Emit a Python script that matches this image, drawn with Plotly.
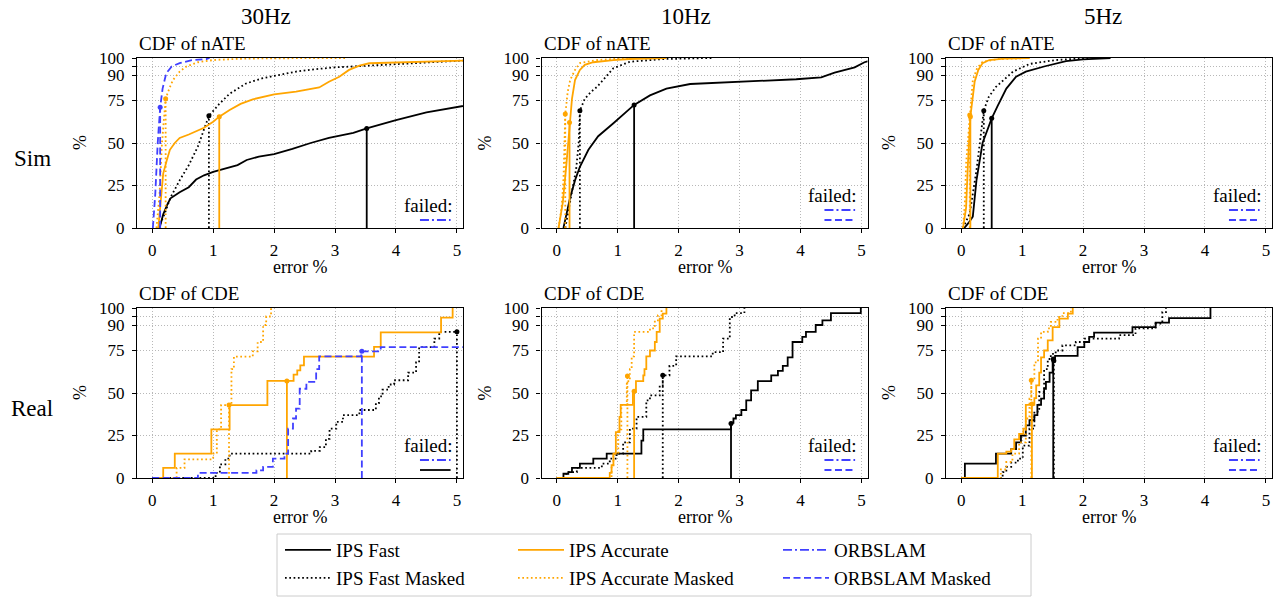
import plotly.graph_objects as go

W, H = 1278, 597
FONT = "Liberation Serif, Times New Roman, serif"

# ---------------- series / styles ----------------
SERIES = ["IPS Fast", "IPS Fast Masked", "IPS Accurate", "IPS Accurate Masked", "ORBSLAM", "ORBSLAM Masked"]
LEGEND_ORDER = ["IPS Fast", "IPS Fast Masked", "IPS Accurate", "IPS Accurate Masked", "ORBSLAM", "ORBSLAM Masked"]
COL_TITLES = ["30Hz", "10Hz", "5Hz"]
ROW_LABELS = ["Sim", "Real"]
ROW_TITLES = ["CDF of nATE", "CDF of CDE"]
X_TICKS = [0, 1, 2, 3, 4, 5]
Y_TICKS = [0, 25, 50, 75, 90, 95, 100]
Y_TICKTEXT = ["0", "25", "50", "75", "90", "", "100"]

# ---------------- Sim 30Hz (nATE) ----------------
SIM30_FAST_X = [0.12, 0.18, 0.25, 0.30, 0.45, 0.60, 0.72, 0.85, 1.0, 1.2, 1.4, 1.55, 1.75, 2.0, 2.3, 2.6, 2.9, 3.1, 3.3, 3.52, 3.8, 4.0, 4.5, 5.1, 5.3]
SIM30_FAST_Y = [0, 8, 14, 17.5, 21, 24, 28.5, 31, 33, 35, 37, 40, 42, 43.5, 46.5, 50, 53, 54.5, 56, 58.6, 61.5, 63.5, 68, 72, 73]
SIM30_FASTM_X = [0.10, 0.2, 0.3, 0.45, 0.6, 0.75, 0.93, 1.1, 1.27, 1.54, 1.8, 2.0, 2.36, 2.7, 3.0, 3.45, 4.0, 4.5, 5.1]
SIM30_FASTM_Y = [0, 8, 18, 28, 37, 48, 66, 73, 79, 85, 88, 89.4, 92, 93.5, 94.5, 95.3, 96.5, 97.5, 98.5]
SIM30_ACC_X = [0.10, 0.14, 0.18, 0.24, 0.29, 0.37, 0.45, 0.6, 0.72, 0.85, 1.0, 1.10, 1.27, 1.45, 1.65, 2.0, 2.36, 2.74, 2.9, 3.07, 3.23, 3.4, 3.56, 4.0, 4.5, 5.1]
SIM30_ACC_Y = [0, 15, 32, 40, 46, 50, 53, 55, 56.7, 59, 62.5, 65.5, 69.4, 73, 75.7, 78.6, 80.2, 82.7, 86, 89, 93, 95.5, 96.9, 97.3, 97.8, 98.4]
SIM30_ACCM_X = [0.07, 0.12, 0.16, 0.20, 0.22, 0.28, 0.34, 0.45, 0.56, 0.75, 1.0, 1.4, 1.8, 3.2]
SIM30_ACCM_Y = [0, 20, 50, 70, 76, 82, 87, 92, 95, 97.5, 98.8, 99.5, 99.8, 100]
SIM30_ORBM_X = [0.01, 0.05, 0.09, 0.12, 0.13, 0.17, 0.23, 0.32, 0.45, 0.65, 0.89, 0.94]
SIM30_ORBM_Y = [0, 20, 50, 68, 71, 82, 91, 95, 97, 98.7, 99.4, 100]
SIM30_MEANS = {"IPS Fast": (3.52, 58.6), "IPS Fast Masked": (0.93, 66), "IPS Accurate": (1.10, 65.5),
               "IPS Accurate Masked": (0.22, 76), "ORBSLAM Masked": (0.13, 71)}

# ---------------- Sim 10Hz (nATE) ----------------
SIM10_FAST_X = [0.11, 0.16, 0.22, 0.3, 0.38, 0.52, 0.68, 0.93, 1.1, 1.27, 1.53, 1.8, 2.19, 2.84, 3.93, 4.34, 4.56, 4.89, 5.05, 5.3]
SIM10_FAST_Y = [0, 8, 18, 28, 36, 46, 54, 61.6, 67, 72.4, 78, 82, 84.7, 85.7, 87.5, 88.6, 91.4, 94.5, 97.5, 100]
SIM10_FASTM_X = [0.14, 0.2, 0.26, 0.32, 0.36, 0.38, 0.46, 0.56, 0.66, 0.8, 0.93, 1.2, 1.75, 2.54]
SIM10_FASTM_Y = [0, 12, 22, 35, 50, 69, 76, 80, 83, 89, 94, 97.8, 99.4, 100]
SIM10_ACC_X = [0.03, 0.1, 0.16, 0.21, 0.25, 0.3, 0.38, 0.46, 0.6, 0.93, 1.2, 1.8]
SIM10_ACC_Y = [0, 15, 38, 62, 76, 87, 93, 96, 97.5, 98.8, 99.4, 100]
SIM10_ACCM_X = [0.03, 0.08, 0.11, 0.14, 0.18, 0.22, 0.3, 0.38, 0.66, 1.2]
SIM10_ACCM_Y = [0, 12, 28, 67, 80, 87, 93, 97, 98.8, 100]
SIM10_MEANS = {"IPS Fast": (1.27, 72.4), "IPS Fast Masked": (0.38, 69), "IPS Accurate": (0.21, 62),
               "IPS Accurate Masked": (0.14, 67)}

# ---------------- Sim 5Hz (nATE) ----------------
SIM5_FAST_X = [0.05, 0.12, 0.19, 0.25, 0.35, 0.5, 0.6, 0.74, 0.9, 1.06, 1.36, 1.55, 1.72, 2.0, 2.45]
SIM5_FAST_Y = [0, 3, 6.7, 28, 50, 64.5, 72, 82, 89, 92, 95, 96.9, 98.2, 99.2, 100]
SIM5_FASTM_X = [0.03, 0.14, 0.25, 0.32, 0.37, 0.45, 0.57, 0.85, 1.12, 1.55, 2.1]
SIM5_FASTM_Y = [0, 8.6, 34, 55, 69, 77, 83, 92, 96.5, 98.8, 100]
SIM5_ACC_X = [0.03, 0.08, 0.11, 0.15, 0.22, 0.28, 0.35, 0.46, 0.7, 1.12]
SIM5_ACC_Y = [0, 12, 38, 65.5, 86, 93, 97, 98.8, 99.6, 100]
SIM5_ACCM_X = [0.03, 0.06, 0.08, 0.14, 0.19, 0.26, 0.35, 0.6, 1.12]
SIM5_ACCM_Y = [0, 15, 38, 66.5, 87, 94, 97.8, 99.3, 100]
SIM5_MEANS = {"IPS Fast": (0.50, 64.5), "IPS Fast Masked": (0.37, 69), "IPS Accurate": (0.15, 65.5),
              "IPS Accurate Masked": (0.14, 66.5)}

# ---------------- Real 30Hz (CDE) ----------------
REAL30_FASTM_X = [0.0, 1.04, 1.11, 1.2, 1.27, 2.61, 2.75, 2.85, 2.91, 3.02, 3.13, 3.4, 3.67, 3.72, 3.78, 3.88, 3.97, 4.2, 4.33, 4.38, 4.63, 4.71, 5.01]
REAL30_FASTM_Y = [0, 3, 8, 11.4, 14.3, 16, 18.2, 23, 29, 33, 37, 40, 44, 48, 52, 55, 57.5, 62, 68, 77, 82, 86, 86]
REAL30_ACC_X = [0.05, 0.18, 0.37, 0.97, 1.27, 1.89, 2.32, 2.38, 2.43, 2.49, 3.64, 3.75, 4.74, 4.93]
REAL30_ACC_Y = [0, 5.9, 14.3, 28.6, 42.9, 57.1, 60.8, 63.3, 66.3, 71.4, 77.1, 85.7, 94.3, 100]
REAL30_ACCM_X = [0.05, 0.40, 0.53, 1.0, 1.06, 1.13, 1.30, 1.34, 1.65, 1.73, 1.82, 1.87, 1.95]
REAL30_ACCM_Y = [0, 5.9, 11, 14.3, 28.6, 42.9, 64, 71.4, 74.5, 80, 90, 95, 100]
REAL30_ORBM_X = [0.0, 0.75, 1.71, 1.82, 1.98, 2.17, 2.23, 2.31, 2.36, 2.42, 2.53, 2.69, 2.74, 3.43, 3.75, 5.2]
REAL30_ORBM_Y = [0, 3, 4.5, 6.5, 11.4, 14.3, 29, 35, 40.8, 52.5, 56.5, 64, 71.6, 74.5, 77, 77]
REAL30_MEANS = {"IPS Fast Masked": (5.0, 86), "IPS Accurate": (2.21, 57.1),
                "IPS Accurate Masked": (1.26, 42.9), "ORBSLAM Masked": (3.44, 74.5)}

# ---------------- Real 10Hz (CDE) ----------------
REAL10_FAST_X = [0.0, 0.11, 0.19, 0.25, 0.38, 0.60, 0.82, 1.39, 1.42, 2.86, 2.9, 2.94, 3.03, 3.11, 3.19, 3.30, 3.52, 3.63, 3.71, 3.79, 3.87, 4.03, 4.09, 4.25, 4.36, 4.50, 4.99]
REAL10_FAST_Y = [0, 2.5, 3.5, 6, 8.4, 11.4, 14.3, 22, 28.6, 32.5, 35, 37, 40, 45.7, 51.6, 57, 60.4, 63, 66, 71, 80, 83, 86, 90, 92.7, 97, 100]
REAL10_FASTM_X = [0.0, 0.16, 0.33, 0.74, 0.87, 0.98, 1.09, 1.2, 1.31, 1.47, 1.53, 1.69, 1.74, 1.85, 1.96, 2.56, 2.73, 2.84, 2.92, 3.08]
REAL10_FASTM_Y = [0, 3.5, 6, 8.4, 11.4, 14.3, 21, 29, 36, 45.7, 48.6, 54.5, 60.4, 66, 71.6, 74, 82, 94.7, 97, 100]
REAL10_ACC_X = [0.0, 0.87, 0.90, 0.93, 0.97, 1.03, 1.05, 1.25, 1.30, 1.42, 1.44, 1.47, 1.53, 1.61, 1.64, 1.69, 1.74, 1.80]
REAL10_ACC_Y = [0, 3, 7.5, 14.3, 27, 36, 43, 50.6, 57, 60.4, 64, 71.6, 75, 80, 86, 93.7, 96.7, 100]
REAL10_ACCM_X = [0.0, 0.9, 0.93, 1.01, 1.06, 1.15, 1.2, 1.23, 1.27, 1.53, 1.61, 1.66, 1.72]
REAL10_ACCM_Y = [0, 7, 14.3, 28.6, 43, 57, 64, 71.6, 86, 88, 92, 95.7, 100]
REAL10_MEANS = {"IPS Fast": (2.86, 32), "IPS Fast Masked": (1.74, 60.4), "IPS Accurate": (1.27, 51),
                "IPS Accurate Masked": (1.16, 60)}

# ---------------- Real 5Hz (CDE) ----------------
REAL5_FAST_X = [0.0, 0.06, 0.57, 0.82, 0.90, 0.98, 1.06, 1.12, 1.2, 1.25, 1.31, 1.36, 1.39, 1.45, 1.50, 1.54, 1.91, 2.02, 2.1, 2.18, 2.81, 3.19, 3.41, 4.09]
REAL5_FAST_Y = [0, 8.4, 14.3, 17, 21, 25, 31, 34, 37, 43, 46.7, 52.5, 56.5, 62, 69, 71.8, 77, 80, 83, 85.5, 88.8, 91.4, 94, 100]
REAL5_FASTM_X = [0.0, 0.68, 0.74, 0.82, 0.93, 1.01, 1.12, 1.2, 1.28, 1.36, 1.42, 1.47, 1.55, 1.66, 1.88, 2.02, 2.59, 2.86, 3.19, 3.3, 3.36]
REAL5_FASTM_Y = [0, 3.5, 6.5, 9, 11.4, 19, 29, 39, 50.6, 64, 70, 73, 75, 78, 80, 82, 84, 88, 90.8, 97.6, 100]
REAL5_ACC_X = [0.0, 0.6, 0.74, 0.82, 0.87, 0.95, 1.02, 1.06, 1.2, 1.23, 1.28, 1.31, 1.36, 1.42, 1.50, 1.61, 1.75, 1.83]
REAL5_ACC_Y = [0, 14.3, 15.5, 17, 22.7, 26, 29, 43, 47, 54.5, 62, 71, 75, 81, 88.8, 93.7, 96.7, 100]
REAL5_ACCM_X = [0.0, 0.65, 0.74, 0.84, 0.95, 1.06, 1.12, 1.15, 1.2, 1.26, 1.31, 1.42, 1.47, 1.58, 1.66, 1.8]
REAL5_ACCM_Y = [0, 5, 9.4, 14.3, 21, 35, 46.7, 57.5, 68, 82, 86, 88, 91.8, 94.7, 97, 100]
REAL5_MEANS = {"IPS Fast": (1.51, 70), "IPS Fast Masked": (1.52, 69), "IPS Accurate": (1.16, 43.5),
               "IPS Accurate Masked": (1.15, 57.5)}

FAILED = [["ORBSLAM"], ["ORBSLAM", "ORBSLAM Masked"], ["ORBSLAM", "ORBSLAM Masked"],
          ["ORBSLAM", "IPS Fast"], ["ORBSLAM", "ORBSLAM Masked"], ["ORBSLAM", "ORBSLAM Masked"]]

# ---------------- styles ----------------
BLUE = "#4040ff"
STYLE = {
    "IPS Fast": ("black", "solid"),
    "IPS Fast Masked": ("black", "1.7px,2.6px"),
    "IPS Accurate": ("orange", "solid"),
    "IPS Accurate Masked": ("orange", "1.7px,2.6px"),
    "ORBSLAM": (BLUE, "9px,3px,2px,3px"),
    "ORBSLAM Masked": (BLUE, "7px,3.5px"),
}
LW = 1.8

PANELS = [
    dict(step=False, means=SIM30_MEANS, curves={
        "IPS Fast": (SIM30_FAST_X, SIM30_FAST_Y), "IPS Fast Masked": (SIM30_FASTM_X, SIM30_FASTM_Y),
        "IPS Accurate": (SIM30_ACC_X, SIM30_ACC_Y), "IPS Accurate Masked": (SIM30_ACCM_X, SIM30_ACCM_Y),
        "ORBSLAM Masked": (SIM30_ORBM_X, SIM30_ORBM_Y)}),
    dict(step=False, means=SIM10_MEANS, curves={
        "IPS Fast": (SIM10_FAST_X, SIM10_FAST_Y), "IPS Fast Masked": (SIM10_FASTM_X, SIM10_FASTM_Y),
        "IPS Accurate": (SIM10_ACC_X, SIM10_ACC_Y), "IPS Accurate Masked": (SIM10_ACCM_X, SIM10_ACCM_Y)}),
    dict(step=False, means=SIM5_MEANS, curves={
        "IPS Fast": (SIM5_FAST_X, SIM5_FAST_Y), "IPS Fast Masked": (SIM5_FASTM_X, SIM5_FASTM_Y),
        "IPS Accurate": (SIM5_ACC_X, SIM5_ACC_Y), "IPS Accurate Masked": (SIM5_ACCM_X, SIM5_ACCM_Y)}),
    dict(step=True, means=REAL30_MEANS, curves={
        "IPS Fast Masked": (REAL30_FASTM_X, REAL30_FASTM_Y),
        "IPS Accurate": (REAL30_ACC_X, REAL30_ACC_Y), "IPS Accurate Masked": (REAL30_ACCM_X, REAL30_ACCM_Y),
        "ORBSLAM Masked": (REAL30_ORBM_X, REAL30_ORBM_Y)}),
    dict(step=True, means=REAL10_MEANS, curves={
        "IPS Fast": (REAL10_FAST_X, REAL10_FAST_Y), "IPS Fast Masked": (REAL10_FASTM_X, REAL10_FASTM_Y),
        "IPS Accurate": (REAL10_ACC_X, REAL10_ACC_Y), "IPS Accurate Masked": (REAL10_ACCM_X, REAL10_ACCM_Y)}),
    dict(step=True, means=REAL5_MEANS, curves={
        "IPS Fast": (REAL5_FAST_X, REAL5_FAST_Y), "IPS Fast Masked": (REAL5_FASTM_X, REAL5_FASTM_Y),
        "IPS Accurate": (REAL5_ACC_X, REAL5_ACC_Y), "IPS Accurate Masked": (REAL5_ACCM_X, REAL5_ACCM_Y)}),
]

# ---------------- layout geometry (pixels) ----------------
LEFTS = [137, 541.5, 946]
TOPS = [58, 308]
PW, PH = 326, 170
XR = [-0.25, 5.1]
COL_TITLE_X = [266, 686, 1103]

fig = go.Figure()
annotations = []
shapes = []
layout = {}


def txt(size=18):
    return dict(family=FONT, size=size, color="black")


for i, p in enumerate(PANELS):
    r, c = divmod(i, 3)
    n = i + 1
    xa = "x" if n == 1 else f"x{n}"
    ya = "y" if n == 1 else f"y{n}"
    for s in SERIES:
        color, dash = STYLE[s]
        if s in p["means"]:
            mx, my = p["means"][s]
            fig.add_trace(go.Scatter(x=[mx, mx], y=[0, my], mode="lines",
                                     line=dict(color=color, width=LW, dash=dash),
                                     xaxis=xa, yaxis=ya, showlegend=False, hoverinfo="skip"))
        if s in p["curves"]:
            x, y = p["curves"][s]
            fig.add_trace(go.Scatter(x=x, y=y, mode="lines",
                                     line=dict(color=color, width=LW, dash=dash,
                                               shape="hv" if p["step"] else "linear"),
                                     xaxis=xa, yaxis=ya, showlegend=False, hoverinfo="skip"))
        if s in p["means"]:
            mx, my = p["means"][s]
            fig.add_trace(go.Scatter(x=[mx], y=[my], mode="markers",
                                     marker=dict(color=color, size=5),
                                     xaxis=xa, yaxis=ya, showlegend=False, hoverinfo="skip"))

    l, t = LEFTS[c], TOPS[r]
    ax_common = dict(showline=True, linecolor="black", linewidth=1.3, mirror=True,
                     ticks="outside", ticklen=4, tickcolor="black", tickwidth=1,
                     showgrid=True, gridcolor="#b8b8b8", griddash="1px,2px", gridwidth=1,
                     zeroline=False, tickfont=txt(17), fixedrange=True, automargin=False)
    layout["xaxis" if n == 1 else f"xaxis{n}"] = dict(
        ax_common, domain=[l / W, (l + PW) / W], range=XR, tickvals=X_TICKS,
        anchor=ya, ticklabelstandoff=2)
    layout["yaxis" if n == 1 else f"yaxis{n}"] = dict(
        ax_common, domain=[1 - (t + PH) / H, 1 - t / H], range=[0, 100],
        tickvals=Y_TICKS, ticktext=Y_TICKTEXT, anchor=xa, ticklabelstandoff=4)

    # panel title
    annotations.append(dict(text=ROW_TITLES[r], x=l / W, y=1 - (t - 15) / H, xref="paper", yref="paper",
                            xanchor="left", yanchor="middle", showarrow=False, font=txt(19)))
    # axis labels
    annotations.append(dict(text="error %", x=(l + PW / 2) / W, y=1 - (t + PH + 39) / H, xref="paper",
                            yref="paper", xanchor="center", yanchor="middle", showarrow=False, font=txt(18)))
    annotations.append(dict(text="%", x=(l - 57) / W, y=1 - (t + PH / 2) / H, xref="paper", yref="paper",
                            xanchor="center", yanchor="middle", showarrow=False, font=txt(18), textangle=-90))
    # failed box
    fl = FAILED[i]
    nf = len(fl)
    for k, s in enumerate(fl):
        color, dash = STYLE[s]
        yy = 0.047 + (nf - 1 - k) * 0.059
        shapes.append(dict(type="line", xref=f"{xa} domain", yref=f"{ya} domain",
                           x0=0.868, x1=0.962, y0=yy, y1=yy,
                           line=dict(color=color, width=LW, dash=dash)))
    annotations.append(dict(text="failed:", x=0.975, y=0.047 + (nf - 1) * 0.059 + 0.085,
                            xref=f"{xa} domain", yref=f"{ya} domain", xanchor="right", yanchor="middle",
                            showarrow=False, font=txt(19)))

# column titles and row labels
for c, t_ in enumerate(COL_TITLES):
    annotations.append(dict(text=t_, x=COL_TITLE_X[c] / W, y=1 - 17 / H, xref="paper", yref="paper",
                            xanchor="center", yanchor="middle", showarrow=False, font=txt(23)))
for r, t_ in enumerate(ROW_LABELS):
    annotations.append(dict(text=t_, x=32 / W, y=1 - (TOPS[r] + PH / 2 + 15) / H, xref="paper",
                            yref="paper", xanchor="center", yanchor="middle", showarrow=False, font=txt(23)))

# legend frame
shapes.append(dict(type="rect", xref="paper", yref="paper", x0=277 / W, x1=1031 / W,
                   y0=1 - 596 / H, y1=1 - 534 / H, line=dict(color="#cccccc", width=1),
                   fillcolor="white", layer="below"))

# legends: one per entry, placed in a 3x2 grid (container-referenced so they don't push margins)
LEG_X = [280, 513, 778]
LEG_Y = [550, 578]
for k, s in enumerate(LEGEND_ORDER):
    c, r = divmod(k, 2)
    name = "legend" if k == 0 else f"legend{k + 1}"
    color, dash = STYLE[s]
    fig.add_trace(go.Scatter(x=[None], y=[None], mode="lines", name=s, legend=name,
                             line=dict(color=color, width=LW, dash=dash), showlegend=True))
    layout[name] = dict(x=LEG_X[c] / W, y=1 - LEG_Y[r] / H, xanchor="left", yanchor="middle",
                        xref="container", yref="container",
                        bgcolor="rgba(0,0,0,0)", borderwidth=0, itemwidth=46,
                        font=txt(19), orientation="v")

fig.update_layout(width=W, height=H, margin=dict(l=0, r=0, t=0, b=0, autoexpand=False),
                  paper_bgcolor="white",
                  plot_bgcolor="white", annotations=annotations, shapes=shapes, hovermode=False,
                  font=dict(family=FONT, color="black"), **layout)

fig.write_html("out.html")
